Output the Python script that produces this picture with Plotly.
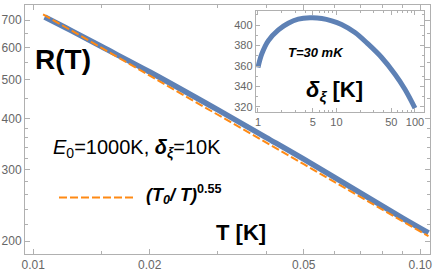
import plotly.graph_objects as go

# ---- data ----
T_main = [0.0107, 0.0125, 0.015, 0.02, 0.03, 0.04, 0.05, 0.07, 0.09, 0.105]
R_main = [713, 661, 603, 522, 421, 360, 318.5, 263, 228, 209.6]

T_fit = [0.0106, 0.02, 0.05, 0.105]
R_fit = [724, 512, 309.5, 205.8]

delta_inset = [1, 1.115, 1.35, 1.82, 2.43, 3.26, 4.6, 6.5, 8.7, 11.6, 17.2, 25.4, 37.6, 55.6, 74.4, 100]
R_inset = [358.5, 371.5, 384.6, 395.3, 401.8, 405.7, 407, 406.4, 404.1, 400.5, 392.7, 381.3, 368.3, 352, 337.4, 319]

x_major = [0.01, 0.02, 0.05, 0.1]
x_major_text = ["0.01", "0.02", "0.05", "0.10"]
x_minor = [0.015, 0.03, 0.04, 0.06, 0.07, 0.08, 0.09]
y_major = [200, 300, 400, 500, 600, 700]
y_minor = [220, 240, 260, 280, 320, 340, 360, 380, 450, 550, 650]

xi_major = [1, 5, 10, 50, 100]
xi_minor = [2, 3, 4, 6, 7, 8, 9, 20, 30, 40, 60, 70, 80, 90]
yi_major = [320, 340, 360, 380, 400]
yi_minor = [330, 350, 370, 390, 410]

BLUE = "#5e81b5"
ORANGE = "#ff8a14"
FRAME = "#b0b0b0"
FONT = "Liberation Sans, Arial, sans-serif"
TICKFONT = dict(family=FONT, size=12, color="#666666")

W, H = 436, 275
ML, MR, MT, MB = 25, 6, 5, 21
PW, PH = W - ML - MR, H - MT - MB


def px(x):
    return (x - ML) / PW


def py(y):
    return (H - MB - y) / PH


fig = go.Figure()
fig.add_trace(go.Scatter(x=T_main, y=R_main, mode="lines", line=dict(color=BLUE, width=5.5, shape="spline"),
                         xaxis="x", yaxis="y", showlegend=False))
fig.add_trace(go.Scatter(x=T_fit, y=R_fit, mode="lines", line=dict(color=ORANGE, width=2, dash="8px,3px"),
                         xaxis="x", yaxis="y", showlegend=False))
fig.add_trace(go.Scatter(x=delta_inset, y=R_inset, mode="lines", line=dict(color=BLUE, width=5, shape="spline"),
                         xaxis="x2", yaxis="y2", showlegend=False))

axis_common = dict(showline=True, linecolor=FRAME, linewidth=1, mirror="allticks", showgrid=False,
                   zeroline=False, ticks="inside", tickcolor=FRAME, tickwidth=1, automargin=False)
inset_font = dict(family=FONT, size=11, color="#666666")

fig.update_layout(
    width=W, height=H,
    margin=dict(l=ML, r=MR, t=MT, b=MB),
    paper_bgcolor="white", plot_bgcolor="white",
    xaxis=dict(type="log", range=[-2.0214, -0.9749], tickvals=x_major, ticktext=x_major_text, ticklen=5,
               tickfont=TICKFONT,
               minor=dict(tickvals=x_minor, ticklen=3, ticks="inside", tickcolor=FRAME), **axis_common),
    yaxis=dict(type="log", range=[2.2696, 2.8826], tickvals=y_major, ticktext=[str(v) for v in y_major], ticklen=5,
               tickfont=TICKFONT,
               minor=dict(tickvals=y_minor, ticklen=3, ticks="inside", tickcolor=FRAME), **axis_common),
    xaxis2=dict(type="log", range=[-0.029, 2.115], domain=[px(255.7), px(424)], anchor="y2",
                tickvals=xi_major, ticktext=[str(v) for v in xi_major], ticklen=4, tickfont=inset_font,
                minor=dict(tickvals=xi_minor, ticklen=2, ticks="inside", tickcolor=FRAME),
                **axis_common),
    yaxis2=dict(range=[315.4, 414], domain=[py(111.7), py(10.7)], anchor="x2",
                tickvals=yi_major, ticklen=4, tickfont=inset_font,
                minor=dict(tickvals=yi_minor, ticklen=2, ticks="inside", tickcolor=FRAME),
                **axis_common),
)

annotations = [
    dict(x=px(62.5), y=py(59), text="<b>R(T)</b>", font=dict(family=FONT, size=28, color="black"),
         xanchor="center", yanchor="middle"),
    dict(x=px(51), y=py(148), text="<i>E</i><sub>0</sub>=1000K, <b><i>δ</i><sub><i>ξ</i></sub></b>=10K",
         font=dict(family=FONT, size=20, color="black"), xanchor="left", yanchor="middle"),
    dict(x=px(144), y=py(194), text="<b><i>(T</i><sub><i>0</i></sub><i>/ T)</i><sup>0.55</sup></b>",
         font=dict(family=FONT, size=18, color="black"), xanchor="left", yanchor="middle"),
    dict(x=px(241), y=py(232), text="<b>T [K]</b>", font=dict(family=FONT, size=22, color="black"),
         xanchor="center", yanchor="middle"),
    dict(x=px(316), y=py(52), text="<b><i>T=30 mK</i></b>", font=dict(family=FONT, size=13, color="black"),
         xanchor="center", yanchor="middle"),
    dict(x=px(334), y=py(91), text="<b><i>δ</i><sub><i>ξ</i></sub> [K]</b>", font=dict(family=FONT, size=22, color="black"),
         xanchor="center", yanchor="middle"),
]
for a in annotations:
    a.update(xref="paper", yref="paper", showarrow=False)
fig.update_layout(annotations=annotations)

# legend sample line for the dashed fit
fig.add_shape(type="line", xref="paper", yref="paper", x0=px(59), x1=px(135), y0=py(197.5), y1=py(197.5),
              line=dict(color=ORANGE, width=2, dash="8px,3px"))

fig.write_html("out.html", config={"displayModeBar": False},
               post_script="document.body.style.margin='0';document.body.style.padding='0';")
